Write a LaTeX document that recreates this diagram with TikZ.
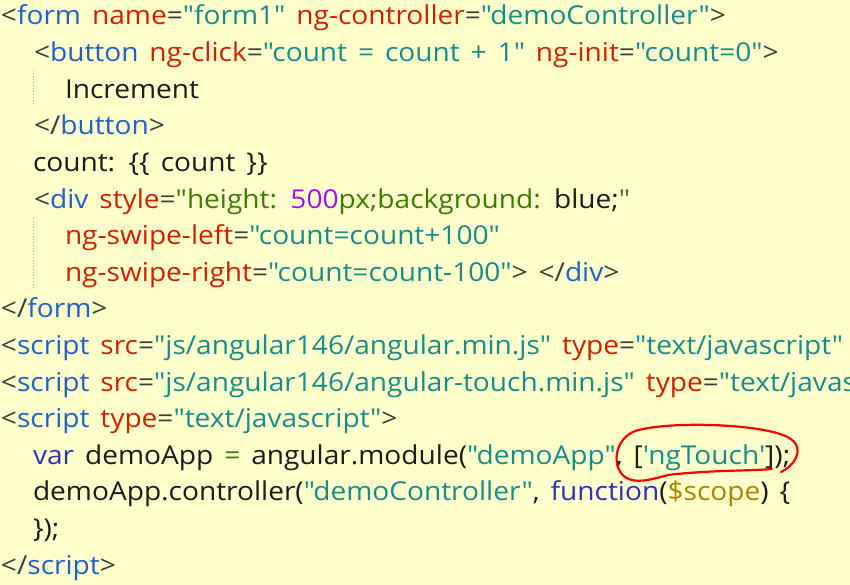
\documentclass[tikz,border=0pt]{standalone}
\usepackage{fontspec}
\newfontfamily\codefont[FakeStretch=1.08,WordSpace=1.5]{Open Sans}
\definecolor{bgc}{HTML}{FFFFCC}
\definecolor{tagc}{HTML}{2060C8}
\definecolor{attc}{HTML}{D02000}
\definecolor{strc}{HTML}{188C8C}
\definecolor{punc}{HTML}{3C3C3C}
\definecolor{txtc}{HTML}{1C1C1C}
\definecolor{keyc}{HTML}{3030C0}
\definecolor{varc}{HTML}{B08000}
\definecolor{numc}{HTML}{A010F0}
\definecolor{cssc}{HTML}{3C7C00}
\definecolor{guidec}{HTML}{B0B0B0}
\newcommand\cTag[1]{\textcolor{tagc}{#1}}
\newcommand\cAtt[1]{\textcolor{attc}{#1}}
\newcommand\cStr[1]{\textcolor{strc}{#1}}
\newcommand\cPun[1]{\textcolor{punc}{#1}}
\newcommand\cTxt[1]{\textcolor{txtc}{#1}}
\newcommand\cKey[1]{\textcolor{keyc}{#1}}
\newcommand\cVar[1]{\textcolor{varc}{#1}}
\newcommand\cNum[1]{\textcolor{numc}{#1}}
\newcommand\cCss[1]{\textcolor{cssc}{#1}}
\def\q{\char"22\relax}
\def\ap{\char"27\relax}
\tikzset{
  codeline/.style={anchor=base west, inner sep=0pt, outer sep=0pt, font=\codefont\fontsize{26}{30}\selectfont},
  guide/.style={draw=guidec, line width=1pt, dotted},
  mark ring/.style={draw=red, line width=2.2pt, line cap=round, line join=round}
}
\begin{document}
\begin{tikzpicture}[x=1pt,y=1pt]
\useasboundingbox (0,0) rectangle (850,-585);
\fill[bgc] (0,0) rectangle (850,-585);
\clip (0,0) rectangle (850,-585);
\def\ls{36.6}
\node[codeline] (L1) at (1,-25) {\cPun{<}\cTag{form} \cAtt{name}\cPun{=}\cStr{\q form1\q} \cAtt{ng-controller}\cPun{=}\cStr{\q demoController\q}\cPun{>}};
\node[codeline] (L2) at (34,-25-1*\ls) {\cPun{<}\cTag{button} \cAtt{ng-click}\cPun{=}\cStr{\q count = count + 1\q} \cAtt{ng-init}\cPun{=}\cStr{\q count=0\q}\cPun{>}};
\node[codeline] (L3) at (65,-25-2*\ls) {\cTxt{Increment}};
\node[codeline] (L4) at (34,-25-3*\ls) {\cPun{</}\cTag{button}\cPun{>}};
\node[codeline] (L5) at (33,-25-4*\ls) {\cTxt{count: \{\{ count \}\}}};
\node[codeline] (L6) at (34,-25-5*\ls) {\cPun{<}\cTag{div} \cAtt{style}\cPun{=}\cCss{\q height: }\cNum{500}\cCss{px;background: }\cTxt{blue;}\cCss{\q}};
\node[codeline] (L7) at (65,-25-6*\ls) {\cAtt{ng-swipe-left}\cPun{=}\cStr{\q count=count+100\q}};
\node[codeline] (L8) at (65,-25-7*\ls) {\cAtt{ng-swipe-right}\cPun{=}\cStr{\q count=count-100\q}\cPun{>} \cPun{</}\cTag{div}\cPun{>}};
\node[codeline] (L9) at (1,-25-8*\ls) {\cPun{</}\cTag{form}\cPun{>}};
\node[codeline] (L10) at (1,-25-9*\ls) {\cPun{<}\cTag{script} \cAtt{src}\cPun{=}\cStr{\q js/angular146/angular.min.js\q} \cAtt{type}\cPun{=}\cStr{\q text/javascript\q} \cAtt{charset}};
\node[codeline] (L11) at (1,-25-10*\ls) {\cPun{<}\cTag{script} \cAtt{src}\cPun{=}\cStr{\q js/angular146/angular-touch.min.js\q} \cAtt{type}\cPun{=}\cStr{\q text/javascript\q}};
\node[codeline] (L12) at (1,-25-11*\ls) {\cPun{<}\cTag{script} \cAtt{type}\cPun{=}\cStr{\q text/javascript\q}\cPun{>}};
\node[codeline] (L13) at (33,-25-12*\ls) {\cKey{var} \cTxt{demoApp} \cCss{=} \cTxt{angular.module(}\cStr{\q demoApp\q}\cTxt{, [}\cStr{\ap ngTouch\ap}\cTxt{]);}};
\node[codeline] (L14) at (33,-25-13*\ls) {\cTxt{demoApp.controller(}\cStr{\q demoController\q}\cTxt{, }\cKey{function}\cTxt{(}\cVar{\$scope}\cTxt{) \{}};
\node[codeline] (L15) at (33,-25-14*\ls) {\cTxt{\});}};
\node[codeline] (L16) at (1,-25-15*\ls) {\cPun{</}\cTag{script}\cPun{>}};
% indent guides
\coordinate (g1a) at (33,-70);
\coordinate (g1b) at (33,-105);
\coordinate (g2a) at (33,-218);
\coordinate (g2b) at (33,-290);
\draw[guide] (g1a) -- (g1b);
\draw[guide] (g2a) -- (g2b);
% hand-drawn red ring
\draw[mark ring] (781,-472) .. controls (797,-464) and (803,-448) .. (792,-440)
  .. controls (775,-424) and (670,-420) .. (635,-431)
  .. controls (613,-440) and (612,-468) .. (625,-477)
  .. controls (635,-484) and (650,-480) .. (668,-475)
  .. controls (710,-470) and (750,-471) .. (772,-469);
\end{tikzpicture}
\end{document}
